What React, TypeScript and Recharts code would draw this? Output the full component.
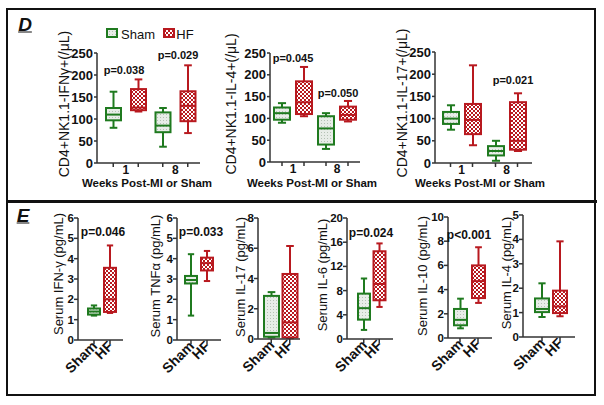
import React from 'react';
import { ComposedChart, Bar, XAxis, YAxis } from 'recharts';

const GREEN = '#1f7a1f';
const RED = '#b8191f';
const AXIS = '#333';
const INK = '#111';
const FONT = '"Liberation Sans", Arial, sans-serif';

// each box is [min, q1, median, q3, max]
const weeks = ['1', '8'];
const ifngSham = [[80, 97, 110, 125, 162], [37, 70, 85, 115, 125]];
const ifngHF = [[117, 120, 126, 168, 190], [68, 95, 130, 163, 222]];
const il4Sham = [[90, 97, 112, 125, 135], [30, 40, 77, 105, 112]];
const il4HF = [[105, 110, 137, 185, 218], [93, 97, 108, 127, 140]];
const il17Sham = [[75, 88, 100, 115, 130], [5, 17, 27, 38, 50]];
const il17HF = [[40, 65, 97, 133, 220], [27, 30, 50, 137, 157]];
const countTicks = [0, 50, 100, 150, 200, 250];

const groups = ['Sham', 'HF'];
const serumIFNg = [[1.2, 1.25, 1.4, 1.55, 1.7], [1.33, 1.38, 2.0, 3.55, 4.65]];
const serumTNFa = [[1.2, 2.78, 2.95, 3.15, 4.22], [2.9, 3.42, 3.78, 4.05, 4.38]];
const serumIL17 = [[0.1, 0.15, 0.4, 2.85, 3.1], [0.05, 0.1, 1.1, 4.3, 6.15]];
const serumIL6 = [[1.5, 3.2, 5.1, 7.5, 10], [5.3, 6.4, 9.1, 14.5, 15.8]];
const serumIL10 = [[0.8, 1.05, 1.5, 2.4, 3.25], [2.9, 3.3, 4.7, 6.0, 7.5]];
const serumIL4 = [[0.82, 1.02, 1.15, 1.58, 2.2], [0.85, 0.98, 1.25, 1.9, 3.92]];

const ticks6 = [0, 1, 2, 3, 4, 5, 6];
const ticks8 = [0, 2, 4, 6, 8];
const ticks20 = [0, 4, 8, 12, 16, 20];
const ticks10 = [0, 2, 4, 6, 8, 10];
const ticks5 = [0, 1, 2, 3, 4, 5];

const drawBox = (props: any, s: number[], color: string, fill: string) => {
  const { x, y, width, height } = props;
  const top = Math.min(y, y + height);
  const bot = Math.max(y, y + height);
  const py = (v: number) => bot - ((v - s[0]) / (s[4] - s[0])) * (bot - top);
  const cx = x + width / 2;
  const cap = width * 0.45;
  return (
    <g>
      <line x1={cx} x2={cx} y1={py(s[4])} y2={py(s[3])} stroke={color} strokeWidth={2} />
      <line x1={cx} x2={cx} y1={py(s[1])} y2={py(s[0])} stroke={color} strokeWidth={2} />
      <line x1={cx - cap / 2} x2={cx + cap / 2} y1={py(s[4])} y2={py(s[4])} stroke={color} strokeWidth={2} />
      <line x1={cx - cap / 2} x2={cx + cap / 2} y1={py(s[0])} y2={py(s[0])} stroke={color} strokeWidth={2} />
      <rect x={x + 1} y={py(s[3])} width={width - 2} height={py(s[1]) - py(s[3])} fill={fill} stroke={color} strokeWidth={2} />
      <line x1={x + 1} x2={x + width - 1} y1={py(s[2])} y2={py(s[2])} stroke={color} strokeWidth={2} />
    </g>
  );
};

const weekTick = (off: number) => (props: any) => {
  const { x, y, payload } = props;
  return (
    <g>
      <line x1={x - off} x2={x - off} y1={y - 4} y2={y} stroke={AXIS} strokeWidth={1.5} />
      <line x1={x + off} x2={x + off} y1={y - 4} y2={y} stroke={AXIS} strokeWidth={1.5} />
      <text x={x} y={y} dy={7} textAnchor="middle" fontSize={12} fontWeight={700} fontFamily={FONT} fill={INK}>
        {payload.value}
      </text>
    </g>
  );
};

const groupTick = (props: any) => {
  const { x, y, payload } = props;
  return (
    <g transform={`translate(${x + 4},${y + 3})`}>
      <text x={0} y={0} textAnchor="end" transform="rotate(-45)"
        fontSize={14} fontWeight={700} fontFamily={FONT} fill={INK}>
        {payload.value}
      </text>
    </g>
  );
};

const Txt = ({ x, y, size = 12, bold = false, rot = false, italic = false, children }: any) => (
  <div
    style={{
      position: 'absolute', left: x, top: y,
      transform: `translate(-50%, -50%)${rot ? ' rotate(-90deg)' : ''}`,
      whiteSpace: 'nowrap', fontSize: size, fontWeight: bold ? 700 : 400,
      fontStyle: italic ? 'italic' : 'normal', fontFamily: FONT, lineHeight: 1, color: INK,
    }}
  >
    {children}
  </div>
);

const YW = 44, ML = 4, MT = 8, MR = 6;

function WeekChart({ left, top, w, h, pad, barSize, barGap, sham, hf }: any) {
  const data = weeks.map((wk, i) => ({ week: wk, sham: sham[i], hf: hf[i] }));
  const XH = 22;
  return (
    <div style={{ position: 'absolute', left: left - YW - ML, top: top - MT }}>
      <ComposedChart
        width={YW + ML + w + MR}
        height={MT + h + XH}
        data={data}
        margin={{ top: MT, right: MR, left: ML, bottom: 0 }}
        barSize={barSize}
        barGap={barGap}
      >
        <XAxis
          dataKey="week"
          height={XH}
          padding={pad}
          axisLine={{ stroke: AXIS, strokeWidth: 1.5 }}
          tickLine={false}
          tickSize={4}
          tickMargin={0}
          tick={weekTick((barSize + barGap) / 2)}
          interval={0}
        />
        <YAxis
          width={YW}
          domain={[0, 250]}
          ticks={countTicks}
          interval={0}
          axisLine={{ stroke: AXIS, strokeWidth: 1.5 }}
          tickLine={{ stroke: AXIS, strokeWidth: 1.5 }}
          tickSize={3}
          tickMargin={1}
          tick={{ fill: INK, fontSize: 13, fontWeight: 700, fontFamily: FONT }}
        />
        <Bar
          dataKey={(d: any) => [d.sham[0], d.sham[4]]}
          isAnimationActive={false}
          shape={(p: any) => drawBox(p, p.payload.sham, GREEN, 'url(#shamFill)')}
        />
        <Bar
          dataKey={(d: any) => [d.hf[0], d.hf[4]]}
          isAnimationActive={false}
          shape={(p: any) => drawBox(p, p.payload.hf, RED, 'url(#hfFill)')}
        />
      </ComposedChart>
    </div>
  );
}

function SerumChart({ left, top, w, h, pad, barSize, max, ticks, series }: any) {
  const data = groups.map((g, i) => ({ group: g, stats: series[i] }));
  const XH = 45;
  return (
    <div style={{ position: 'absolute', left: left - YW - ML, top: top - MT }}>
      <ComposedChart
        width={YW + ML + w + MR}
        height={MT + h + XH}
        data={data}
        margin={{ top: MT, right: MR, left: ML, bottom: 0 }}
        barSize={barSize}
      >
        <XAxis
          dataKey="group"
          height={XH}
          padding={pad}
          axisLine={{ stroke: AXIS, strokeWidth: 1.5 }}
          tickLine={{ stroke: AXIS, strokeWidth: 1.5 }}
          tickSize={4}
          tickMargin={0}
          tick={groupTick}
          interval={0}
        />
        <YAxis
          width={YW}
          domain={[0, max]}
          ticks={ticks}
          interval={0}
          axisLine={{ stroke: AXIS, strokeWidth: 1.5 }}
          tickLine={{ stroke: AXIS, strokeWidth: 1.5 }}
          tickSize={4}
          tickMargin={0}
          tick={{ fill: INK, fontSize: 11.5, fontWeight: 700, fontFamily: FONT }}
        />
        <Bar
          dataKey={(d: any) => [d.stats[0], d.stats[4]]}
          isAnimationActive={false}
          shape={(p: any) =>
            p.payload.group === 'HF'
              ? drawBox(p, p.payload.stats, RED, 'url(#hfFill)')
              : drawBox(p, p.payload.stats, GREEN, 'url(#shamFill)')
          }
        />
      </ComposedChart>
    </div>
  );
}

export default function App() {
  return (
    <div style={{ position: 'fixed', left: 0, top: 0, width: 604, height: 405, background: '#fff', overflow: 'hidden' }}>
      <svg width={0} height={0} style={{ position: 'absolute' }}>
        <defs>
          <pattern id="hfFill" width={4} height={4} patternUnits="userSpaceOnUse">
            <rect width={4} height={4} fill="#fff" />
            <rect width={2} height={2} fill={RED} />
            <rect x={2} y={2} width={2} height={2} fill={RED} />
          </pattern>
          <pattern id="shamFill" width={3} height={3} patternUnits="userSpaceOnUse">
            <rect width={3} height={3} fill="#e8ede8" />
            <rect width={1} height={1} fill="#b5c2b5" />
          </pattern>
        </defs>
      </svg>

      {/* frames */}
      <div style={{ position: 'absolute', left: 6, top: 8, width: 586, height: 384, border: '2.5px solid #111' }} />
      <div style={{ position: 'absolute', left: 6, top: 200, width: 591, height: 3, background: '#111' }} />

      <Txt x={25} y={24} size={19} bold italic><span style={{ textDecoration: 'underline' }}>D</span></Txt>
      <Txt x={23} y={215} size={19} bold italic><span style={{ textDecoration: 'underline' }}>E</span></Txt>

      {/* legend */}
      <svg width={90} height={12} style={{ position: 'absolute', left: 106, top: 28 }}>
        <rect x={1} y={1} width={10} height={8} fill="url(#shamFill)" stroke={GREEN} strokeWidth={2} />
        <rect x={58} y={1} width={10} height={8} fill="url(#hfFill)" stroke={RED} strokeWidth={2} />
      </svg>
      <Txt x={138} y={34} size={13}>Sham</Txt>
      <Txt x={185} y={34} size={13}>HF</Txt>

      <WeekChart left={97} top={53} w={103} h={110} pad={{ left: 4, right: 0 }} barSize={17} barGap={8} sham={ifngSham} hf={ifngHF} />
      <WeekChart left={270} top={53} w={90} h={109} pad={{ left: 1, right: 1 }} barSize={18} barGap={4} sham={il4Sham} hf={il4HF} />
      <WeekChart left={435} top={52} w={97} h={111} pad={{ left: 4, right: 3 }} barSize={18} barGap={4} sham={il17Sham} hf={il17HF} />

      <Txt x={64} y={104} size={14} rot>CD4+NK1.1-IFNγ+(/μL)</Txt>
      <Txt x={231} y={104} size={14} rot>CD4+NK1.1-IL-4+(/μL)</Txt>
      <Txt x={402} y={103} size={14} rot>CD4+NK1.1-IL-17+(/μL)</Txt>
      <Txt x={147} y={184} size={11.5} bold>Weeks Post-MI or Sham</Txt>
      <Txt x={312} y={184} size={11.5} bold>Weeks Post-MI or Sham</Txt>
      <Txt x={480} y={184} size={11.5} bold>Weeks Post-MI or Sham</Txt>

      <Txt x={124} y={70} size={11} bold>p=0.038</Txt>
      <Txt x={178} y={55} size={11} bold>p=0.029</Txt>
      <Txt x={293} y={58} size={11} bold>p=0.045</Txt>
      <Txt x={338} y={93} size={11} bold>p=0.050</Txt>
      <Txt x={513} y={80} size={11} bold>p=0.021</Txt>

      <SerumChart left={78} top={218} w={45} h={122} pad={{ left: 8, right: 5 }} barSize={14} max={6} ticks={ticks6} series={serumIFNg} />
      <SerumChart left={177} top={218} w={44} h={122} pad={{ left: 6, right: 6 }} barSize={14} max={6} ticks={ticks6} series={serumTNFa} />
      <SerumChart left={258} top={218} w={42} h={121} pad={{ left: 4, right: 1 }} barSize={17} max={8} ticks={ticks8} series={serumIL17} />
      <SerumChart left={347} top={218} w={46} h={121} pad={{ left: 9, right: 6 }} barSize={14} max={20} ticks={ticks20} series={serumIL6} />
      <SerumChart left={448} top={217} w={44} h={121} pad={{ left: 3, right: 5 }} barSize={15} max={10} ticks={ticks10} series={serumIL10} />
      <SerumChart left={523} top={215} w={52} h={122} pad={{ left: 10, right: 6 }} barSize={16} max={5} ticks={ticks5} series={serumIL4} />

      <Txt x={58} y={274} size={13} rot>Serum IFN-γ (pg/mL)</Txt>
      <Txt x={155} y={276} size={13} rot>Serum TNFα (pg/mL)</Txt>
      <Txt x={240} y={277} size={13} rot>Serum IL-17 (pg/mL)</Txt>
      <Txt x={322} y={275} size={13} rot>Serum IL-6 (pg/mL)</Txt>
      <Txt x={422} y={276} size={13} rot>Serum IL-10 (pg/mL)</Txt>
      <Txt x={506} y={273} size={13} rot>Serum IL-4 (pg/mL)</Txt>

      <Txt x={103} y={232} size={12} bold>p=0.046</Txt>
      <Txt x={201} y={232} size={12} bold>p=0.033</Txt>
      <Txt x={371} y={233} size={12} bold>p=0.024</Txt>
      <Txt x={469} y={235} size={12} bold>p&lt;0.001</Txt>
    </div>
  );
}
